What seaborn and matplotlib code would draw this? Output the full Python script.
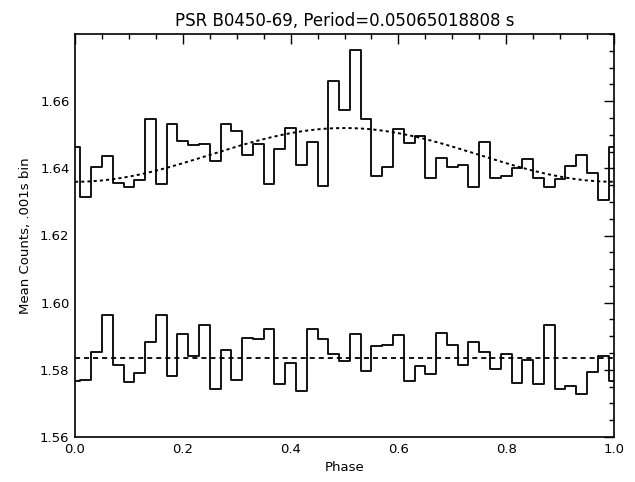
import numpy as np
import pandas as pd
import matplotlib
matplotlib.use("Agg")
import matplotlib.pyplot as plt
from matplotlib.ticker import MultipleLocator
import seaborn as sns

# ---- data ----
phase = [round(0.02 * i, 2) for i in range(51)]

upper_counts = [
    1.6465, 1.6316, 1.6405, 1.6436, 1.6355, 1.6344, 1.6366, 1.6546, 1.6352, 1.6532,
    1.6481, 1.6470, 1.6472, 1.6421, 1.6532, 1.6510, 1.6441, 1.6472, 1.6352, 1.6459,
    1.6521, 1.6409, 1.6479, 1.6347, 1.6660, 1.6573, 1.6753, 1.6548, 1.6377, 1.6404,
    1.6516, 1.6475, 1.6496, 1.6372, 1.6430, 1.6405, 1.6409, 1.6343, 1.6479, 1.6370,
    1.6376, 1.6402, 1.6427, 1.6370, 1.6344, 1.6368, 1.6408, 1.6441, 1.6386, 1.6305,
    1.6465,
]

lower_counts = [
    1.5766, 1.5770, 1.5853, 1.5963, 1.5813, 1.5763, 1.5790, 1.5882, 1.5962, 1.5783,
    1.5906, 1.5841, 1.5933, 1.5743, 1.5860, 1.5769, 1.5896, 1.5892, 1.5923, 1.5757,
    1.5821, 1.5738, 1.5923, 1.5893, 1.5846, 1.5827, 1.5908, 1.5798, 1.5872, 1.5875,
    1.5904, 1.5766, 1.5812, 1.5787, 1.5911, 1.5874, 1.5813, 1.5884, 1.5852, 1.5803,
    1.5846, 1.5760, 1.5828, 1.5757, 1.5934, 1.5742, 1.5752, 1.5729, 1.5794, 1.5842,
    1.5766,
]

# sinusoid fit parameters (upper) and constant level (lower)
fit_mean = 1.644
fit_amp = 0.008
fit_peak_phase = 0.5
lower_level = 1.5834

title = "PSR B0450-69, Period=0.05065018808 s"
xlabel = "Phase"
ylabel = "Mean Counts, .001s bin"
xticks = [0.0, 0.2, 0.4, 0.6, 0.8, 1.0]
yticks = [1.56, 1.58, 1.60, 1.62, 1.64, 1.66]

# ---- plotting ----
sns.set_style("white")
plt.rcParams["font.family"] = ["DejaVu Sans"]
plt.rcParams["text.color"] = "black"
plt.rcParams["axes.labelcolor"] = "black"
plt.rcParams["xtick.color"] = "black"
plt.rcParams["ytick.color"] = "black"

fig = plt.figure(figsize=(6.35, 4.82), dpi=100)
ax = fig.add_axes([75 / 635, 1 - 437 / 482, (614 - 75) / 635, (437 - 34) / 482])

df = pd.DataFrame({"phase": phase, "upper": upper_counts, "lower": lower_counts})

sns.lineplot(data=df, x="phase", y="upper", ax=ax, drawstyle="steps-mid",
             color="black", lw=1.3, estimator=None)
sns.lineplot(data=df, x="phase", y="lower", ax=ax, drawstyle="steps-mid",
             color="black", lw=1.3, estimator=None)

xf = np.linspace(0, 1, 301)
yf = fit_mean + fit_amp * np.cos(2 * np.pi * (xf - fit_peak_phase))
sns.lineplot(x=xf, y=yf, ax=ax, color="black", lw=1.4, linestyle=(0, (1.6, 1.6)))
sns.lineplot(x=[0, 1], y=[lower_level, lower_level], ax=ax, color="black",
             lw=1.3, linestyle=(0, (2.8, 2.2)))

ax.set_xlim(0, 1)
ax.set_ylim(1.56, 1.68)
ax.set_xticks(xticks)
ax.set_xticklabels([f"{t:.1f}" for t in xticks])
ax.set_yticks(yticks)
ax.set_yticklabels([f"{t:.2f}" for t in yticks])
ax.xaxis.set_minor_locator(MultipleLocator(0.05))
ax.yaxis.set_minor_locator(MultipleLocator(0.005))

ax.tick_params(which="both", direction="in", top=True, right=True,
               labeltop=False, labelright=False, color="black", width=1.0)
ax.tick_params(which="major", length=7.5, labelsize=9.5, pad=4)
ax.tick_params(which="minor", length=3.8)

for s in ax.spines.values():
    s.set_color("black")
    s.set_linewidth(1.2)

ax.set_title(title, fontsize=12, pad=6, color="black")
ax.set_xlabel(xlabel, fontsize=9.5, labelpad=4)
ax.set_ylabel(ylabel, fontsize=9.5, labelpad=6)

fig.savefig("out.png", dpi=100)
